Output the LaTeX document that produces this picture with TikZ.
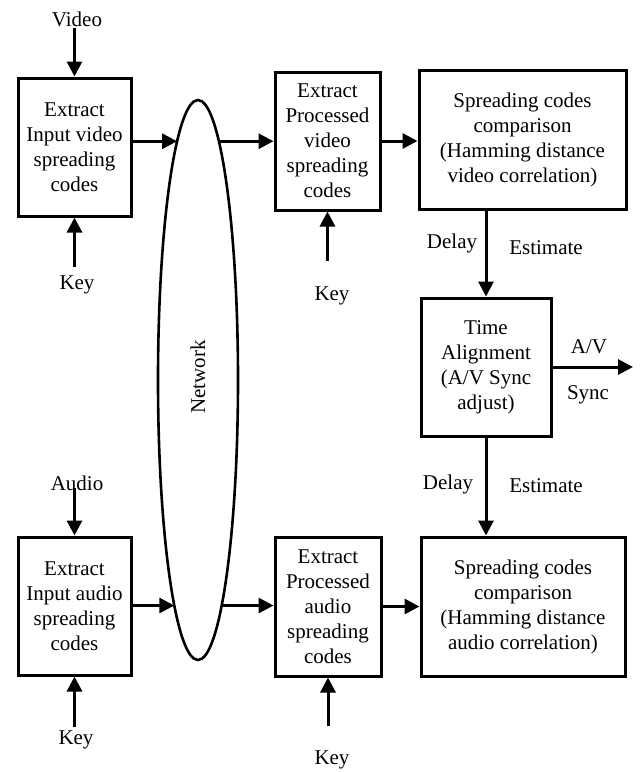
\documentclass[tikz,border=0pt]{standalone}
\usepackage{fontspec}
\setmainfont{Liberation Serif}
\usetikzlibrary{arrows.meta,shapes.geometric}
\begin{document}
\begin{tikzpicture}[x=1pt,y=-1pt,
  box/.style={draw, line width=3pt, align=center, inner sep=0pt, font=\fontsize{21}{25}\selectfont},
  lbl/.style={font=\fontsize{21}{25}\selectfont, inner sep=1pt},
  arr/.style={line width=3pt, -{Triangle[length=15pt,width=15pt]}},
]
\useasboundingbox (0,0) rectangle (642,772);

% boxes
\node[box, minimum width=113pt, minimum height=138pt] (in1) at (74.5,147) {Extract\\Input video\\spreading\\codes};
\node[box, minimum width=105pt, minimum height=138pt] (pv) at (327.5,141) {Extract\\Processed\\video\\spreading\\codes};
\node[box, minimum width=207pt, minimum height=139pt] (cv) at (522.5,139.5) {Spreading codes\\comparison\\(Hamming distance\\video correlation)};
\node[box, minimum width=130pt, minimum height=138pt] (ta) at (486,367) {Time\\Alignment\\(A/V Sync\\adjust)};
\node[box, minimum width=113pt, minimum height=138pt] (in2) at (74.5,606) {Extract\\Input audio\\spreading\\codes};
\node[box, minimum width=106pt, minimum height=139pt] (pa) at (328,606.5) {Extract\\Processed\\audio\\spreading\\codes};
\node[box, minimum width=204pt, minimum height=139pt] (ca) at (523,606.5) {Spreading codes\\comparison\\(Hamming distance\\audio correlation)};

% network
\node[draw, ellipse, line width=2.6pt, inner sep=0pt, outer sep=0pt, minimum width=80pt, minimum height=560pt] (net) at (198,380) {};
\node[lbl, rotate=90] (nettxt) at (198,377) {Network};

% labels
\node[lbl] (video) at (77,19) {Video};
\node[lbl] (key1) at (77,285) {Key};
\node[lbl] (key2) at (332,296) {Key};
\node[lbl] (delay1) at (452,243) {Delay};
\node[lbl] (est1) at (546,248) {Estimate};
\node[lbl] (av) at (589,347) {A/V};
\node[lbl] (sync) at (588,395) {Sync};
\node[lbl] (audio) at (77,483) {Audio};
\node[lbl] (delay2) at (448,484) {Delay};
\node[lbl] (est2) at (546,486) {Estimate};
\node[lbl] (key3) at (76,740) {Key};
\node[lbl] (key4) at (332,760) {Key};

% free ends
\coordinate (k1) at (74.5,267);
\coordinate (k2) at (327.5,261);
\coordinate (a0) at (74.5,488);
\coordinate (k3) at (74.5,727);
\coordinate (k4) at (328,726);
\coordinate (out) at (633,367);

% connectors
\draw[arr] (in1.north |- video.south) -- (in1.north);
\draw[arr] (k1) -- (in1.south);
\draw[arr] (in1.east |- net.95) -- (net.95);
\draw[arr] (net.85) -- (pv.west |- net.85);
\draw[arr] (k2) -- (pv.south);
\draw[arr] (pv.east) -- (cv.west |- pv.east);
\draw[arr] (ta.north |- cv.south) -- (ta.north);
\draw[arr] (ta.east) -- (out);
\draw[arr] (ta.south) -- (ta.south |- ca.north);

\draw[arr] (a0) -- (in2.north);
\draw[arr] (k3) -- (in2.south);
\draw[arr] (in2.east |- net.264) -- (net.264);
\draw[arr] (net.276) -- (pa.west |- net.276);
\draw[arr] (k4) -- (pa.south);
\draw[arr] (pa.east) -- (ca.west |- pa.east);
\end{tikzpicture}
\end{document}
